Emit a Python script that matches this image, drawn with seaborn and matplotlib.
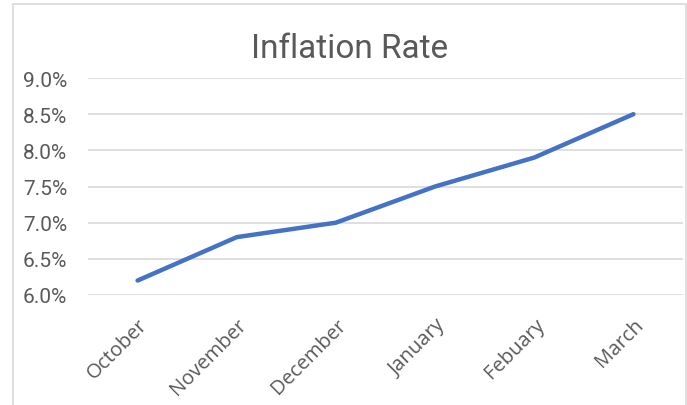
import numpy as np
import matplotlib
matplotlib.use("Agg")
import matplotlib.pyplot as plt
import pandas as pd
import seaborn as sns
from matplotlib.patches import Rectangle
from matplotlib.ticker import PercentFormatter

months = ["October", "November", "December", "January", "Febuary", "March"]
rates = [6.2, 6.8, 7.0, 7.5, 7.9, 8.5]
y_ticks = [6.0, 6.5, 7.0, 7.5, 8.0, 8.5, 9.0]

sns.set_theme(style="white")
plt.rcParams['font.family'] = ['Roboto', 'DejaVu Sans']

df = pd.DataFrame({"month": months, "rate": rates})
df["pos"] = np.arange(len(months))

fig = plt.figure(figsize=(6.87, 4.06), dpi=100)
ax = fig.add_axes([88 / 687, 1 - 296 / 406, 595 / 687, 217 / 406])

sns.lineplot(data=df, x="pos", y="rate", ax=ax, color="#4472C4",
             linewidth=3.2, solid_capstyle="round")

ax.set_xlim(-0.5, len(months) - 0.5)
ax.set_ylim(6.0, 9.0)
ax.set_yticks(y_ticks)
ax.yaxis.set_major_formatter(PercentFormatter(decimals=1))
ax.set_xticks(df["pos"])
ax.set_xticklabels(months, rotation=45, ha="right", rotation_mode="anchor",
                   fontsize=14.5, color="#595959", family=["Open Sans", "DejaVu Sans"])
ax.tick_params(axis="y", labelsize=15, labelcolor="#595959", pad=15, length=0)
ax.tick_params(axis="x", length=0, pad=14)
ax.grid(axis="y", color="#D9D9D9", linewidth=1.2)
ax.grid(axis="x", visible=False)
for s in ax.spines.values():
    s.set_visible(False)
ax.set_xlabel("")
ax.set_ylabel("")

fig.text(350 / 687, 1 - 49 / 406, "Inflation Rate", ha="center", va="center",
         fontsize=24, color="#595959")

fig.patches.append(Rectangle((13 / 687, -0.02), (686 - 13) / 687, 1 - 5 / 406 + 0.02,
                             transform=fig.transFigure, fill=False,
                             edgecolor="#D9D9D9", linewidth=1.2))

fig.savefig("out.png", dpi=100)
